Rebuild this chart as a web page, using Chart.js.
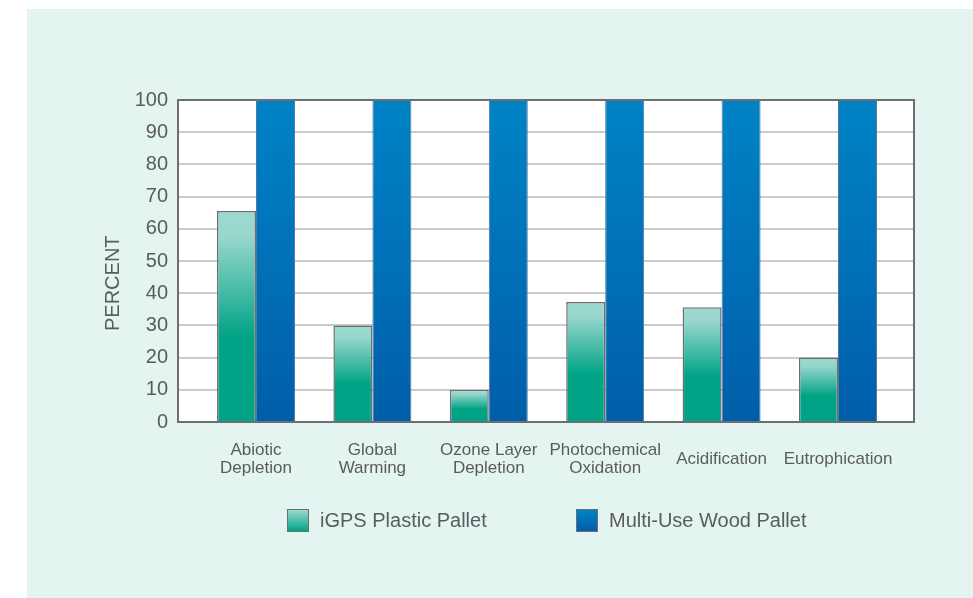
<!DOCTYPE html>
<html>
<head>
<meta charset="utf-8">
<script src="https://cdn.jsdelivr.net/npm/chart.js@4/dist/chart.umd.min.js"></script>
<style>
  html, body { margin: 0; padding: 0; background: #fff; }
  #wrap { position: relative; width: 973px; height: 598px; }
  #chart { position: absolute; left: 0; top: 0; }
  .leg { position: absolute; top: 509px; height: 23px; display: flex; align-items: center;
         font-family: 'Liberation Sans', Arial, sans-serif; font-size: 20px; color: #5a5b5d; }
  .sw { width: 22px; height: 23px; box-sizing: border-box; border: 1px solid #6d6e71; margin-right: 11px; }
</style>
</head>
<body>
<div id="wrap">
  <canvas id="chart" width="973" height="598"></canvas>
  <div class="leg" style="left:287px"><div class="sw" style="background:linear-gradient(#9dd9cf,#00a386)"></div><span id="lg0"></span></div>
  <div class="leg" style="left:576px"><div class="sw" style="background:linear-gradient(#0083c6,#005ea9)"></div><span id="lg1"></span></div>
</div>
<script>
// categorias (etiquetas de dos lineas)
const categorias = [
    ['Abiotic', 'Depletion'],
    ['Global', 'Warming'],
    ['Ozone Layer', 'Depletion'],
    ['Photochemical', 'Oxidation'],
    'Acidification',
    'Eutrophication'
];
const serieNombres = ['iGPS Plastic Pallet', 'Multi-Use Wood Pallet'];
const plastico = [65.5, 30, 10, 37.3, 35.6, 20];
const madera = [100, 100, 100, 100, 100, 100];
const ticksY = [0, 10, 20, 30, 40, 50, 60, 70, 80, 90, 100];

document.getElementById('lg0').textContent = serieNombres[0];
document.getElementById('lg1').textContent = serieNombres[1];

const GRIS = '#5a5b5d';
const FUENTE = "'Liberation Sans', Arial, sans-serif";

// degradado por barra (de claro arriba a oscuro abajo)
function degradado(stops) {
    return (ctx) => {
        const chart = ctx.chart;
        if (!chart.chartArea || !ctx.parsed) return stops[stops.length - 1][1];
        const y = chart.scales.y;
        const top = y.getPixelForValue(ctx.parsed.y);
        const base = y.getPixelForValue(0);
        if (!isFinite(top) || top === base) return stops[stops.length - 1][1];
        const g = chart.ctx.createLinearGradient(0, top, 0, base);
        stops.forEach(s => g.addColorStop(s[0], s[1]));
        return g;
    };
}

// fondo del panel y marco del area de trazado
const fondoPanel = {
    id: 'fondoPanel',
    beforeDraw(chart) {
        const c = chart.ctx, a = chart.chartArea;
        c.save();
        c.fillStyle = '#e4f4f1';
        c.fillRect(27, 9, 946, 589);
        c.fillStyle = '#ffffff';
        c.fillRect(a.left, a.top, a.right - a.left, a.bottom - a.top);
        c.restore();
    },
    afterDatasetsDraw(chart) {
        const c = chart.ctx, a = chart.chartArea;
        c.save();
        c.strokeStyle = '#6d6e71';
        c.lineWidth = 2;
        c.strokeRect(a.left, a.top, a.right - a.left, a.bottom - a.top);
        c.restore();
    }
};

new Chart(document.getElementById('chart'), {
    type: 'bar',
    data: {
        datasets: [{
            label: serieNombres[0],
            data: plastico.map((v, i) => ({ x: i, y: v })),
            backgroundColor: degradado([[0, '#9dd9cf'], [0.12, '#98d7cd'], [0.6, '#00a386'], [1, '#00a386']]),
            borderColor: '#6d6e71',
            borderWidth: 1.5,
            categoryPercentage: 0.67,
            barPercentage: 1
        }, {
            label: serieNombres[1],
            data: madera.map((v, i) => ({ x: i, y: v })),
            backgroundColor: degradado([[0, '#0083c6'], [1, '#005ea9']]),
            borderColor: '#50789a',
            borderWidth: 1,
            categoryPercentage: 0.67,
            barPercentage: 1
        }]
    },
    options: {
        responsive: false,
        animation: false,
        layout: { padding: { left: 96, top: 100, right: 59, bottom: 116 } },
        plugins: { legend: { display: false }, tooltip: { enabled: false } },
        scales: {
            x: {
                type: 'linear',
                offset: false,
                min: -0.67,
                max: 5.653,
                grid: { display: false, drawTicks: false },
                border: { display: false },
                afterFit(s) { s.height = 60; },
                ticks: {
                    stepSize: 1,
                    includeBounds: false,
                    autoSkip: false,
                    maxRotation: 0,
                    padding: 28,
                    crossAlign: 'center',
                    color: GRIS,
                    font: { family: FUENTE, size: 17, lineHeight: 1.05 },
                    callback: (v) => (Number.isInteger(v) && categorias[v] !== undefined) ? categorias[v] : ''
                }
            },
            y: {
                min: 0,
                max: 100,
                grid: { color: '#cbcbcb', lineWidth: 2, drawTicks: false },
                border: { display: false },
                afterFit(s) { s.width = 82; },
                afterBuildTicks(s) { s.ticks = ticksY.map(v => ({ value: v })); },
                ticks: {
                    padding: 10,
                    color: GRIS,
                    font: { family: FUENTE, size: 20 }
                },
                title: {
                    display: true,
                    text: 'PERCENT        ',
                    color: GRIS,
                    font: { family: FUENTE, size: 20 },
                    padding: { top: 5, bottom: 0 }
                }
            }
        }
    },
    plugins: [fondoPanel]
});
</script>
</body>
</html>
